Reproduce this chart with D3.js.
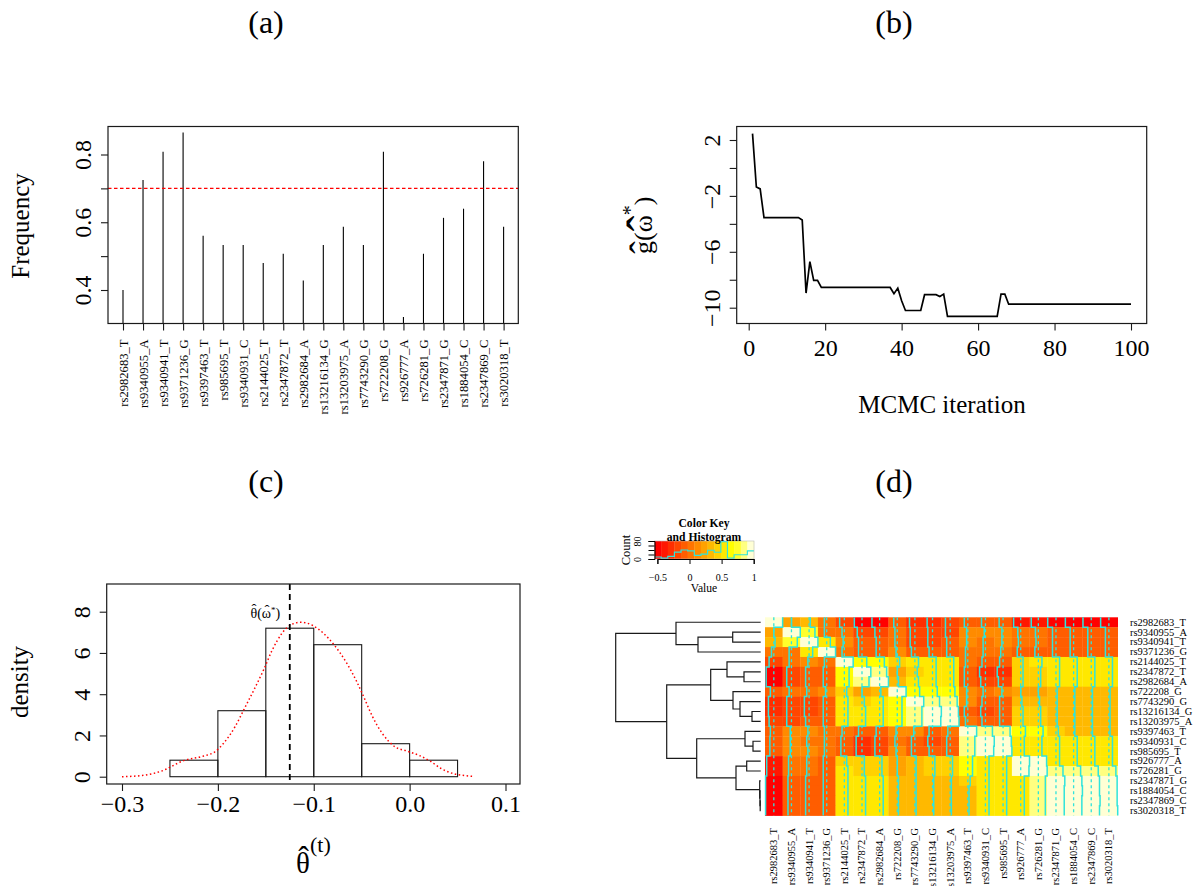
<!DOCTYPE html>
<html>
<head>
<meta charset="utf-8">
<script src="https://cdn.jsdelivr.net/npm/d3@7"></script>
<style>
  html, body { margin: 0; padding: 0; background: #fff; overflow: hidden; }
  svg { display: block; }
  text { font-family: "Liberation Serif", serif; fill: #000; }
</style>
</head>
<body>
<div id="chart"></div>
<script>
// panel (a)
var freqSnps = ['rs2982683_T','rs9340955_A','rs9340941_T','rs9371236_G','rs9397463_T','rs985695_T','rs9340931_C','rs2144025_T','rs2347872_T','rs2982684_A','rs13216134_G','rs13203975_A','rs7743290_G','rs722208_G','rs926777_A','rs726281_G','rs2347871_G','rs1884054_C','rs2347869_C','rs3020318_T'];
var freqValues = [0.40,0.725,0.808,0.865,0.56,0.533,0.533,0.48,0.507,0.428,0.533,0.587,0.533,0.808,0.32,0.507,0.613,0.64,0.78,0.587];
var freqCut = 0.7;

// panel (b), one value per MCMC iteration
var mcmcValues = [2.46,-1.36,-1.5,-3.55,-3.55,-3.55,-3.55,-3.55,-3.55,-3.55,-3.55,-3.55,-3.55,-3.72,-8.95,-6.7,-8.05,-8.05,-8.55,-8.55,
  -8.55,-8.55,-8.55,-8.55,-8.55,-8.55,-8.55,-8.55,-8.55,-8.55,-8.55,-8.55,-8.55,-8.55,-8.55,-8.55,-8.55,-9.0,-8.6,-9.5,
  -10.2,-10.2,-10.2,-10.2,-10.2,-9.07,-9.07,-9.07,-9.07,-9.2,-9.03,-10.62,-10.62,-10.62,-10.62,-10.62,-10.62,-10.62,-10.62,-10.62,
  -10.62,-10.62,-10.62,-10.62,-10.62,-9.03,-9.03,-9.75,-9.75,-9.75,-9.75,-9.75,-9.75,-9.75,-9.75,-9.75,-9.75,-9.75,-9.75,-9.75,
  -9.75,-9.75,-9.75,-9.75,-9.75,-9.75,-9.75,-9.75,-9.75,-9.75,-9.75,-9.75,-9.75,-9.75,-9.75,-9.75,-9.75,-9.75,-9.75,-9.75];

// panel (c)
var histBreaks = [-0.25,-0.2,-0.15,-0.1,-0.05,0,0.05];
var histDensity = [0.8,3.2,7.2,6.4,1.6,0.8];
var densityX = [-0.3,-0.279,-0.2595,-0.235,-0.215,-0.203,-0.1935,-0.182,-0.173,-0.161,-0.152,-0.1435,-0.133,-0.124,-0.113,-0.101,-0.08,-0.065,-0.0555,-0.047,-0.039,-0.029,-0.0153,-0.0024,0.01,0.022,0.033,0.046,0.0585,0.0655];
var densityY = [0,0.06,0.26,0.79,1.0,1.21,1.65,2.43,3.24,4.34,5.21,6.12,6.96,7.36,7.49,7.33,6.46,5.46,4.64,3.78,2.94,2.13,1.45,1.24,1.03,0.74,0.39,0.145,0.05,0.02];
var thetaHat = -0.125;

// panel (d)
var heatSnps = ['rs2982683_T','rs9340955_A','rs9340941_T','rs9371236_G','rs2144025_T','rs2347872_T','rs2982684_A','rs722208_G','rs7743290_G','rs13216134_G','rs13203975_A','rs9397463_T','rs9340931_C','rs985695_T','rs926777_A','rs726281_G','rs2347871_G','rs1884054_C','rs2347869_C','rs3020318_T'];
var corrRows = [
  [1,.23,.33,.02,-.19,-.45,-.45,-.08,-.25,-.25,-.19,-.08,-.12,-.12,-.40,-.40,-.50,-.50,-.50,-.50],
  [.23,1,.74,.02,.02,-.19,-.19,.02,-.19,-.19,-.19,.12,.12,.12,-.03,-.03,-.08,-.08,-.08,-.08],
  [.33,.74,1,.54,.12,-.08,-.08,.02,-.19,-.19,-.08,.12,.02,.12,.02,.02,-.08,-.08,-.08,-.08],
  [.02,.02,.54,1,.02,-.08,-.08,.12,-.08,-.08,-.08,.02,.02,.02,-.08,-.08,-.08,-.08,-.08,-.08],
  [-.19,.02,.12,.02,1,.64,.64,.43,.54,.54,.54,.02,-.08,-.08,.43,.54,.54,.54,.54,.54],
  [-.45,-.19,-.08,-.08,.64,1,.84,.23,.43,.54,.54,-.08,-.29,-.29,.43,.43,.54,.54,.54,.54],
  [-.45,-.19,-.08,-.08,.64,.84,1,.33,.54,.54,.54,-.08,-.19,-.19,.43,.43,.54,.54,.54,.54],
  [-.08,.02,.02,.12,.43,.23,.33,1,.64,.64,.64,.12,.02,.12,.23,.23,.33,.33,.33,.33],
  [-.25,-.19,-.19,-.08,.54,.43,.54,.64,1,.84,.84,.12,-.08,-.08,.33,.33,.33,.33,.33,.33],
  [-.25,-.19,-.19,-.08,.54,.54,.54,.64,.84,1,.95,-.08,-.19,-.08,.43,.43,.33,.33,.33,.33],
  [-.19,-.19,-.08,-.08,.54,.54,.54,.64,.84,.95,1,.02,-.08,-.08,.43,.43,.33,.33,.33,.33],
  [-.08,.12,.12,.02,.02,-.08,-.08,.12,.12,-.08,.02,1,.84,.84,.64,.64,.43,.33,.33,.33],
  [-.12,.12,.02,.02,-.08,-.29,-.19,.02,-.08,-.19,-.08,.84,1,.95,.54,.54,.54,.54,.54,.54],
  [-.12,.12,.12,.02,-.08,-.29,-.19,.12,-.08,-.08,-.08,.84,.95,1,.54,.54,.54,.54,.54,.54],
  [-.40,-.03,.02,-.08,.43,.43,.43,.23,.33,.43,.43,.64,.54,.54,1,.95,.54,.54,.54,.54],
  [-.40,-.03,.02,-.08,.54,.43,.43,.23,.33,.43,.43,.64,.54,.54,.95,1,.84,.84,.84,.84],
  [-.50,-.08,-.08,-.08,.54,.54,.54,.33,.33,.33,.33,.43,.54,.54,.54,.84,1,.95,.95,.95],
  [-.50,-.08,-.08,-.08,.54,.54,.54,.33,.33,.33,.33,.33,.54,.54,.54,.84,.95,1,.95,.95],
  [-.50,-.08,-.08,-.08,.54,.54,.54,.33,.33,.33,.33,.33,.54,.54,.54,.84,.95,.95,1,.95],
  [-.50,-.08,-.08,-.08,.54,.54,.54,.33,.33,.33,.33,.33,.54,.54,.54,.84,.95,.95,.95,1]
];
var heatColors = ['#ff0000','#ff1700','#ff2e00','#ff4600','#ff5d00','#ff7400','#ff8b00','#ffa200','#ffb900','#ffd100','#ffe800','#ffff00','#ffff2a','#ffff80','#ffffd5'];
var keyCounts = [9,4,12,31,40,36,16,22,39,30,77,4,19,19,36];

// hclust style merges: negative = leaf (1 based), positive = earlier merge
var dendroMerges = [
  [-2,-3,0.28],[-4,1,0.627],[-1,2,0.847],
  [-6,-7,0.167],[-5,4,0.337],[-10,-11,0.087],[-9,6,0.207],[-8,7,0.277],[5,8,0.50],
  [-13,-14,0.077],[-12,10,0.157],[-15,-16,0.14],
  [-19,-20,0.005],[-18,13,0.007],[-17,14,0.01],[12,15,0.247],[11,16,0.64],[9,17,0.94],[3,18,1.45]
];

var svg = d3.select('#chart').append('svg').attr('width',1202).attr('height',886);
var AXIS_FONT = 24, lineCol = '#1a1a1a';

function panelTitle(txt,x,y) {
  svg.append('text').attr('x',x).attr('y',y).attr('text-anchor','middle').attr('font-size',32).text(txt);
}
panelTitle('(a)',266,33);
panelTitle('(b)',894,33);
panelTitle('(c)',266,492);
panelTitle('(d)',894,492);

function styleAxis(g) {
  g.select('.domain').remove();
  g.selectAll('line').attr('stroke',lineCol).attr('stroke-width',1.1);
  g.selectAll('text').attr('font-family','"Liberation Serif", serif').attr('fill','#000');
}

// R style left axis, tick labels turned along the axis
function leftAxis(x,scale,ticks,labelled) {
  var g = svg.append('g').attr('transform','translate('+x+',0)')
    .call(d3.axisLeft(scale).tickValues(ticks).tickSize(7)
      .tickFormat(function(d){ return labelled.indexOf(d)>=0 ? String(d3.format('.10~f')(d)).replace('-','\u2212') : ''; }));
  styleAxis(g);
  g.selectAll('text').attr('x',null).attr('dy',null).attr('font-size',AXIS_FONT)
    .attr('text-anchor','middle').attr('transform','translate(-17,0) rotate(-90)');
  return g;
}

function bottomAxis(y,scale,ticks,fmt,baseline) {
  var g = svg.append('g').attr('transform','translate(0,'+y+')')
    .call(d3.axisBottom(scale).tickValues(ticks).tickSize(7).tickFormat(fmt));
  styleAxis(g);
  g.selectAll('text').attr('dy',null).attr('y',baseline).attr('font-size',AXIS_FONT);
  return g;
}

function frame(x0,y0,x1,y1) {
  svg.append('rect').attr('x',x0).attr('y',y0).attr('width',x1-x0).attr('height',y1-y0)
    .attr('fill','none').attr('stroke',lineCol).attr('stroke-width',1.2);
}

function rotLabel(txt,x,y,size) {
  return svg.append('text').attr('text-anchor','middle').attr('font-size',size)
    .attr('transform','translate('+x+','+y+') rotate(-90)').text(txt);
}

// hat as its own glyph, the combining one comes out too faint
function hat(parent,x,y,size) {
  parent.append('text').attr('x',x).attr('y',y).attr('text-anchor','middle').attr('font-size',size).text('\u02c6');
}

// ---------------- (a)
(function() {
  var box = {l:108,r:518.3,t:126.5,b:323.5};
  var x = d3.scalePoint().domain(freqSnps).range([123,503.6]);
  var y = d3.scaleLinear().domain([0.4,0.8]).range([290,154.5]);

  svg.append('g').selectAll('line').data(freqValues).join('line')
    .attr('x1',function(d,i){ return x(freqSnps[i]); })
    .attr('x2',function(d,i){ return x(freqSnps[i]); })
    .attr('y1',box.b).attr('y2',function(d){ return y(d); })
    .attr('stroke','#000').attr('stroke-width',1.1);

  svg.append('line').attr('x1',box.l).attr('x2',box.r).attr('y1',y(freqCut)).attr('y2',y(freqCut))
    .attr('stroke','#f00').attr('stroke-width',1.2).attr('stroke-dasharray','3.5 2.5');

  frame(box.l,box.t,box.r,box.b);
  leftAxis(box.l,y,[0.4,0.5,0.6,0.7,0.8],[0.4,0.6,0.8]);
  var gx = svg.append('g').attr('transform','translate(0,'+box.b+')').call(d3.axisBottom(x).tickSize(7));
  styleAxis(gx);
  gx.selectAll('text').attr('y',null).attr('dy',null).attr('font-size',12.6).attr('text-anchor','end')
    .attr('transform','translate(4,16) rotate(-90)');

  rotLabel('Frequency',29,226,25);
})();

// ---------------- (b)
(function() {
  var box = {l:736.7,r:1146.7,t:126.5,b:323.5};
  var x = d3.scaleLinear().domain([0,100]).range([748.7,1131]);
  var y = d3.scaleLinear().domain([-10,2]).range([307.7,140]);

  svg.append('path').datum(mcmcValues)
    .attr('d',d3.line().x(function(d,i){ return x(i+1); }).y(function(d){ return y(d); }))
    .attr('fill','none').attr('stroke','#000').attr('stroke-width',1.7);

  frame(box.l,box.t,box.r,box.b);
  leftAxis(box.l,y,[-10,-8,-6,-4,-2,0,2],[-10,-6,-2,2]);
  bottomAxis(box.b,x,[0,20,40,60,80,100],d3.format('d'),32);

  svg.append('text').attr('x',942).attr('y',413).attr('text-anchor','middle').attr('font-size',25).text('MCMC iteration');

  var g = svg.append('g').attr('transform','translate(652,226) rotate(-90)');
  var lab = g.append('text').attr('x',-28).attr('y',0).attr('font-size',26);
  lab.append('tspan').text('g(\u03c9');
  lab.append('tspan').attr('font-size',20).attr('dy',-15).text('*');
  lab.append('tspan').attr('dy',15).text(')');
  hat(g,-21.5,4,38);
  hat(g,2.5,9,48);
})();

// ---------------- (c)
(function() {
  var box = {l:106.7,r:520,t:584,b:784};
  var x = d3.scaleLinear().domain([-0.3,0.1]).range([122,505.5]);
  var y = d3.scaleLinear().domain([0,8]).range([776.7,611.7]);

  svg.append('g').selectAll('rect').data(histDensity).join('rect')
    .attr('x',function(d,i){ return x(histBreaks[i]); })
    .attr('width',function(d,i){ return x(histBreaks[i+1])-x(histBreaks[i]); })
    .attr('y',function(d){ return y(d); })
    .attr('height',function(d){ return y(0)-y(d); })
    .attr('fill','none').attr('stroke',lineCol).attr('stroke-width',1.1);

  svg.append('path').datum(densityX)
    .attr('d',d3.line().curve(d3.curveMonotoneX).x(function(d){ return x(d); }).y(function(d,i){ return y(densityY[i]); }))
    .attr('fill','none').attr('stroke','#f00').attr('stroke-width',1.5).attr('stroke-dasharray','1.5 2.5');

  svg.append('line').attr('x1',x(thetaHat)).attr('x2',x(thetaHat)).attr('y1',box.t).attr('y2',box.b)
    .attr('stroke','#000').attr('stroke-width',1.8).attr('stroke-dasharray','6 4');

  frame(box.l,box.t,box.r,box.b);
  leftAxis(box.l,y,[0,2,4,6,8],[0,2,4,6,8]);
  bottomAxis(box.b,x,[-0.3,-0.2,-0.1,0,0.1],function(d){ return d3.format('.1f')(d).replace('-','\u2212'); },28);

  rotLabel('density',28,682,25);

  var note = svg.append('text').attr('x',250.5).attr('y',618).attr('font-size',14);
  note.append('tspan').text('\u03b8(\u03c9');
  note.append('tspan').attr('font-size',9).attr('dy',-5).text('*');
  note.append('tspan').attr('dy',5).text(')');
  hat(svg,254,614,15);
  hat(svg,267,615,15);

  svg.append('text').attr('x',296).attr('y',873).attr('font-size',29).text('\u03b8');
  hat(svg,303.5,868,32);
  svg.append('text').attr('x',310).attr('y',852).attr('font-size',22).text('(t)');
})();

// ---------------- (d)
(function() {
  var left = 765, right = 1117.7, top = 617.3, bottom = 815.6;
  var x = d3.scaleBand().domain(d3.range(20)).range([left,right]);
  var y = d3.scaleBand().domain(d3.range(20)).range([top,bottom]);
  var breakLo = -0.55, breakHi = 1;
  var colour = d3.scaleQuantize().domain([breakLo,breakHi]).range(heatColors);
  var rowData = corrRows.map(function(r,i){ return {i:i,r:r}; });

  var rows = svg.append('g').selectAll('g').data(rowData).join('g');
  rows.selectAll('rect').data(function(d){ return d.r.map(function(v,j){ return {i:d.i,j:j,v:v}; }); }).join('rect')
    .attr('x',function(d){ return x(d.j); }).attr('y',function(d){ return y(d.i); })
    .attr('width',x.bandwidth()+0.3).attr('height',y.bandwidth()+0.3)
    .attr('fill',function(d){ return colour(d.v); });

  // trace: dashed centre line plus a step line per column
  var traceCol = '#30e4dc';
  var trace = d3.scaleLinear().domain([breakLo,breakHi]).range([0,x.bandwidth()]);
  svg.append('g').selectAll('line').data(d3.range(20)).join('line')
    .attr('x1',function(j){ return x(j)+trace((breakLo+breakHi)/2); })
    .attr('x2',function(j){ return x(j)+trace((breakLo+breakHi)/2); })
    .attr('y1',top).attr('y2',bottom)
    .attr('stroke',traceCol).attr('stroke-width',1.3).attr('stroke-dasharray','3 3');
  svg.append('g').selectAll('path').data(d3.range(20)).join('path')
    .attr('d',function(j) {
      var pts = [];
      corrRows.forEach(function(r,i) {
        pts.push([x(j)+trace(r[j]),y(i)]);
        pts.push([x(j)+trace(r[j]),y(i)+y.bandwidth()]);
      });
      return d3.line()(pts);
    })
    .attr('fill','none').attr('stroke',traceCol).attr('stroke-width',1.5);

  // labels
  svg.append('g').selectAll('text').data(heatSnps).join('text')
    .attr('x',1130).attr('y',function(d,i){ return y(i)+y.bandwidth()/2+3.4; })
    .attr('font-size',10.5).text(function(d){ return d; });
  svg.append('g').selectAll('text').data(heatSnps).join('text')
    .attr('text-anchor','end').attr('font-size',10.5)
    .attr('transform',function(d,i){ return 'translate('+(x(i)+x.bandwidth()/2+3.5)+',828) rotate(-90)'; })
    .text(function(d){ return d; });

  // dendrogram
  var dendX = d3.scaleLinear().domain([0,1.45]).range([760.7,615.7]);
  var nodes = [];
  function pos(id) {
    if (id<0) return {x:dendX(0),y:y(-id-1)+y.bandwidth()/2};
    return nodes[id-1];
  }
  var segs = [];
  dendroMerges.forEach(function(m) {
    var a = pos(m[0]), b = pos(m[1]), hx = dendX(m[2]);
    segs.push([[a.x,a.y],[hx,a.y],[hx,b.y],[b.x,b.y]]);
    nodes.push({x:hx,y:(a.y+b.y)/2});
  });
  svg.append('g').selectAll('path').data(segs).join('path')
    .attr('d',d3.line()).attr('fill','none').attr('stroke',lineCol).attr('stroke-width',1.2);

  // colour key
  var keyBox = {l:654.5,r:754,t:541,b:559};
  var keyX = d3.scaleLinear().domain([-0.5,1]).range([657.4,753.7]);
  var keyY = d3.scaleLinear().domain([0,80]).range([keyBox.b,keyBox.t]);
  var keyBand = d3.scaleBand().domain(d3.range(15)).range([keyBox.l,keyBox.r]);
  svg.append('g').selectAll('rect').data(heatColors).join('rect')
    .attr('x',function(d,i){ return keyBand(i); }).attr('y',keyBox.t)
    .attr('width',keyBand.bandwidth()+0.3).attr('height',keyBox.b-keyBox.t)
    .attr('fill',function(d){ return d; });
  var stepPts = [];
  keyCounts.forEach(function(c,i) {
    stepPts.push([keyBand(i),keyY(c)]);
    stepPts.push([keyBand(i)+keyBand.bandwidth(),keyY(c)]);
  });
  svg.append('path').datum(stepPts).attr('d',d3.line()).attr('fill','none').attr('stroke',traceCol).attr('stroke-width',1.2);
  svg.append('rect').attr('x',keyBox.l).attr('y',keyBox.t).attr('width',keyBox.r-keyBox.l).attr('height',keyBox.b-keyBox.t)
    .attr('fill','none').attr('stroke','#bbb').attr('stroke-width',0.6);

  function styleKeyAxis(g) {
    g.select('.domain').attr('stroke','#000').attr('stroke-width',1);
    g.selectAll('line').attr('stroke','#000').attr('stroke-width',1);
    g.selectAll('text').attr('font-family','"Liberation Serif", serif').attr('fill','#000');
  }

  var gk = svg.append('g').attr('transform','translate(0,'+keyBox.b+')')
    .call(d3.axisBottom(keyX).tickValues([-0.5,0,0.5,1]).tickSize(5)
      .tickFormat(function(d){ return String(d).replace('-','\u2212'); }));
  gk.selectAll('text').attr('font-size',10).attr('y',null).attr('dy',null).attr('transform','translate(0,21.5)');
  styleKeyAxis(gk);
  var gc = svg.append('g').attr('transform','translate('+keyBox.l+',0)')
    .call(d3.axisLeft(keyY).tickValues([0,20,40,60,80]).tickSize(6)
      .tickFormat(function(d){ return d===0||d===80 ? d : ''; }));
  gc.selectAll('text').attr('font-size',10).attr('x',null).attr('dy',null).attr('text-anchor','middle')
    .attr('transform','translate(-13.5,0) rotate(-90)');
  styleKeyAxis(gc);

  svg.append('text').attr('x',704).attr('y',527).attr('text-anchor','middle').attr('font-size',11.6).attr('font-weight','bold').text('Color Key');
  svg.append('text').attr('x',704).attr('y',541).attr('text-anchor','middle').attr('font-size',11.6).attr('font-weight','bold').text('and Histogram');
  svg.append('text').attr('x',704).attr('y',592).attr('text-anchor','middle').attr('font-size',11.6).text('Value');
  rotLabel('Count',630,550,12.5);
})();
</script>
</body>
</html>
